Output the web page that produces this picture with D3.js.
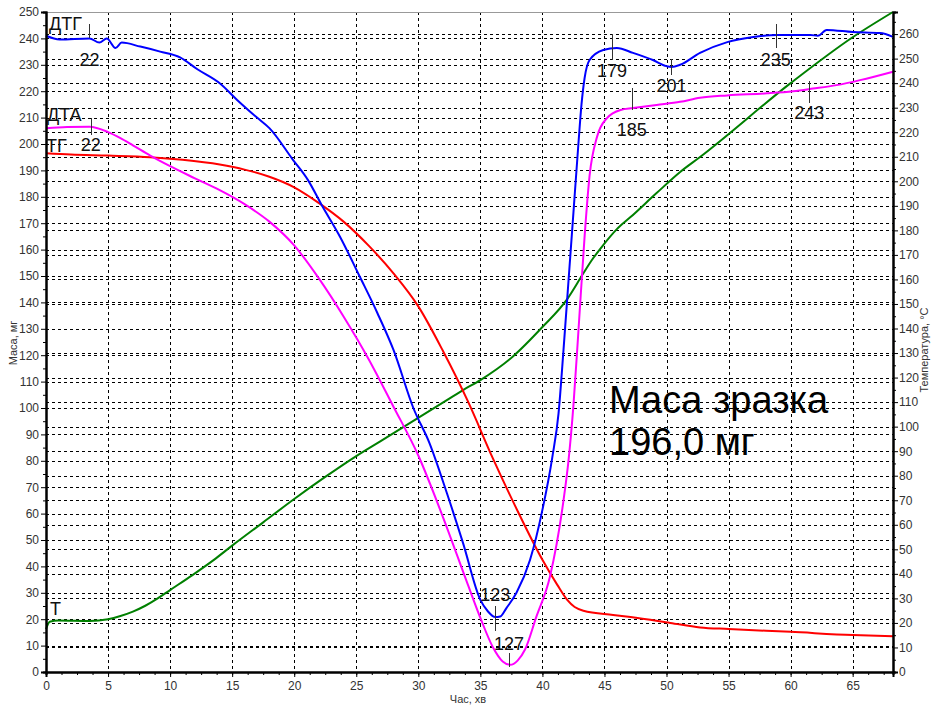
<!DOCTYPE html>
<html>
<head>
<meta charset="utf-8">
<script src="https://cdn.jsdelivr.net/npm/d3@7"></script>
<style>
  body { margin: 0; background: #fff; }
  svg { display: block; font-family: Arial, "Liberation Sans", sans-serif; }
</style>
</head>
<body>
<svg id="chart" width="931" height="708"></svg>
<script>
// час, хв ; маса, мг (ліва вісь)
const tg = [[0,196.5],[2,196],[5,195.6],[8.4,195],[11,194],[14,192.2],[16,190.3],[18,187.6],[20,183.6],[22,177.6],[24,170.5],[26,161.5],[28,151],[30,138.5],[32,121.5],[34,102.5],[36,81],[38,61],[40,42.5],[41.2,33],[42,27.3],[42.6,24.6],[43.3,23.2],[45.7,21.6],[47.1,20.8],[50.3,18.6],[52.7,16.9],[55,16.3],[60,15.2],[65,14],[68.25,13.5]];

const dtg = [[0,241],[1.1,239.6],[3.5,240],[4.3,238.4],[4.9,240],[5.6,236.4],[6.1,238.4],[7.6,236.9],[9.2,235],[10.8,232.8],[12.2,228.3],[14,223],[15.4,216.7],[17,210],[18,206],[19.9,194],[21.1,186.4],[22.2,177],[23.7,164.8],[25.3,149.6],[26.7,136],[28,122],[29.6,100],[30.9,86.7],[32.3,67.8],[33.6,48.9],[35,27.3],[35.6,23],[36.2,20.8],[36.6,21],[37.1,24.2],[37.9,29.9],[39,42.4],[40,61.4],[40.8,81.4],[41.3,98],[41.7,122],[42.1,148],[42.5,174],[42.9,200],[43.15,215],[43.4,225],[43.8,231.8],[44.9,235.6],[46,236.4],[47.3,234.5],[48.9,231.8],[50,229.5],[50.4,229.2],[51.1,230],[52.7,234.5],[54.9,238.6],[57,240.5],[58.9,241.3],[61.6,241.3],[62.2,241],[62.9,243.2],[65,242.4],[67.2,242],[68.25,240.6]];

const dta = [[0,206],[1.7,206.4],[3.5,206.5],[5,204.5],[6,202.2],[7,199.5],[8.4,195.6],[10,191.6],[12,187],[14,182.5],[16,177.2],[18,170.6],[20,161.6],[22,149],[24,134.5],[26,118.5],[28,100.5],[30,82],[32,58.5],[34,33],[35,20.5],[36,9.5],[36.8,4],[37.4,2.7],[38,4.3],[38.6,8.5],[39.5,20.8],[40.6,36],[41.7,65],[42.1,80],[42.5,101],[42.9,129],[43.4,165],[43.8,188],[44.4,202.7],[45.2,209.8],[46.3,212.9],[47.3,213.6],[49.2,214.8],[51.1,216],[52.7,217.5],[54.9,218.4],[58.1,219.2],[60.2,220],[61.8,221],[63.7,222.3],[65.6,224.2],[68.25,227.4]];

// температура, °C (права вісь)
const temp = [[0,17.5],[0.3,20.5],[1,21],[3.5,20.8],[5,21.5],[6,22.8],[7,24.6],[8,27],[9,30],[10,33.4],[11.8,39.5],[13.5,45.6],[15,51.5],[17.5,61],[20,70.5],[22.5,79.5],[25,88],[26.9,93.9],[32.3,110.8],[33.6,114.9],[35,119],[37.6,128.5],[40,140.6],[42,152],[43.3,162.5],[44,168],[44.9,174],[46,180.5],[47.1,185.4],[49.2,195.2],[51.1,203.8],[52.7,209.9],[60,240],[65,258.7],[68.25,269]];

const xTicks = d3.range(0, 66, 5);
const leftTicks = d3.range(0, 251, 10);
const rightTicks = d3.range(0, 261, 10);

const markers = [
    // [x, y1, y2, label, labelY]
    [3.5, 24, 38, "22", 66],
    [3.6, 118, 135, "22", 151],
    [36.2, 606, 631, "123", 601],
    [37.3, 653, 667, "127", 650],
    [45.6, 34, 60, "179", 77],
    [50.4, 59, 75, "201", 92],
    [58.8, 24, 48, "235", 66],
    [61.5, 81, 103, "243", 119],
    [47.2, 88, 110, "185", 136]
];

const curveNames = [["ДТГ", 49, 30], ["ДТА", 47, 121], ["ТГ", 46, 152], ["Т", 50, 615]];

const svg = d3.select("#chart");
const pLeft = 46, pRight = 893, pTop = 12, pBottom = 672;

const x = d3.scaleLinear().domain([0, 68.25]).range([pLeft, pRight]);
const yL = d3.scaleLinear().domain([0, 250]).range([pBottom, pTop]);
const yR = d3.scaleLinear().domain([0, 269]).range([pBottom, pTop]);

// grid
const grid = svg.append("g")
    .attr("stroke", "#000")
    .attr("stroke-width", 1)
    .attr("stroke-dasharray", "3,3")
    .attr("shape-rendering", "crispEdges");

grid.selectAll("line.v")
    .data(xTicks.filter(d => d > 0))
    .enter().append("line")
    .attr("x1", d => Math.round(x(d)) + 0.5)
    .attr("x2", d => Math.round(x(d)) + 0.5)
    .attr("y1", pTop)
    .attr("y2", pBottom);

grid.selectAll("line.hl")
    .data(leftTicks.filter(d => d > 0 && d < 250))
    .enter().append("line")
    .attr("x1", pLeft)
    .attr("x2", pRight)
    .attr("y1", d => Math.round(yL(d)) + 0.5)
    .attr("y2", d => Math.round(yL(d)) + 0.5);

grid.selectAll("line.hr")
    .data(rightTicks.filter(d => d > 0))
    .enter().append("line")
    .attr("x1", pLeft)
    .attr("x2", pRight)
    .attr("y1", d => Math.round(yR(d)) + 0.5)
    .attr("y2", d => Math.round(yR(d)) + 0.5);

// top border
svg.append("line")
    .attr("x1", pLeft).attr("x2", pRight)
    .attr("y1", pTop + 0.5).attr("y2", pTop + 0.5)
    .attr("stroke", "#999");

// curves
const line = (ys) => d3.line()
    .x(d => x(d[0]))
    .y(d => ys(d[1]))
    .curve(d3.curveMonotoneX);

const series = [
    [temp, yR, "#008000"],
    [tg, yL, "#ff0000"],
    [dta, yL, "#ff00ff"],
    [dtg, yL, "#0000ff"]
];

svg.append("g")
    .attr("fill", "none")
    .attr("stroke-width", 2)
    .selectAll("path")
    .data(series)
    .enter().append("path")
    .attr("stroke", d => d[2])
    .attr("d", d => line(d[1])(d[0]));

// axes
const axisFont = g => g.selectAll("text")
    .attr("font-size", 12)
    .attr("fill", "#333")
    .attr("font-family", "Arial, 'Liberation Sans', sans-serif");

svg.append("g")
    .attr("transform", `translate(0,${pBottom})`)
    .call(d3.axisBottom(x).tickValues(xTicks).tickSize(5).tickPadding(4).tickFormat(d3.format("d")))
    .call(axisFont);
svg.append("g")
    .attr("transform", `translate(0,${pBottom})`)
    .call(d3.axisBottom(x).tickValues(d3.range(0, 68.3, 1.25)).tickSize(3).tickFormat(""));

svg.append("g")
    .attr("transform", `translate(${pLeft},0)`)
    .call(d3.axisLeft(yL).tickValues(leftTicks).tickSize(5).tickPadding(2))
    .call(axisFont);
svg.append("g")
    .attr("transform", `translate(${pLeft},0)`)
    .call(d3.axisLeft(yL).tickValues(d3.range(5, 250, 10)).tickSize(3).tickFormat(""));

svg.append("g")
    .attr("transform", `translate(${pRight},0)`)
    .call(d3.axisRight(yR).tickValues(rightTicks).tickSize(5).tickPadding(1))
    .call(axisFont);
svg.append("g")
    .attr("transform", `translate(${pRight},0)`)
    .call(d3.axisRight(yR).tickValues(d3.range(5, 269, 10)).tickSize(3).tickFormat(""));

svg.selectAll(".domain").attr("stroke", "#000").attr("stroke-width", 2);
svg.selectAll(".tick line").attr("stroke", "#000");

// axis titles
svg.append("text")
    .attr("transform", "translate(17,343) rotate(-90)")
    .attr("text-anchor", "middle")
    .attr("font-size", 11)
    .attr("fill", "#333")
    .text("Маса, мг");

svg.append("text")
    .attr("transform", "translate(928,350) rotate(-90)")
    .attr("text-anchor", "middle")
    .attr("font-size", 11)
    .attr("fill", "#333")
    .text("Температура, °C");

svg.append("text")
    .attr("x", 468)
    .attr("y", 703)
    .attr("text-anchor", "middle")
    .attr("font-size", 11)
    .attr("fill", "#333")
    .text("Час, хв");

// curve names
svg.append("g")
    .selectAll("text")
    .data(curveNames)
    .enter().append("text")
    .attr("x", d => d[1])
    .attr("y", d => d[2])
    .attr("font-size", 18)
    .attr("fill", "#111")
    .text(d => d[0]);

// temperature markers
const mk = svg.append("g");
mk.selectAll("line")
    .data(markers)
    .enter().append("line")
    .attr("x1", d => Math.round(x(d[0])) + 0.5)
    .attr("x2", d => Math.round(x(d[0])) + 0.5)
    .attr("y1", d => d[1])
    .attr("y2", d => d[2])
    .attr("stroke", "#333");
mk.selectAll("text")
    .data(markers)
    .enter().append("text")
    .attr("x", d => x(d[0]))
    .attr("y", d => d[4])
    .attr("text-anchor", "middle")
    .attr("font-size", 18)
    .attr("fill", "#111")
    .text(d => d[3]);

// sample mass
svg.append("text")
    .attr("x", 609)
    .attr("y", 413)
    .attr("font-size", 38)
    .attr("fill", "#000")
    .text("Маса зразка");
svg.append("text")
    .attr("x", 609)
    .attr("y", 455)
    .attr("font-size", 38)
    .attr("fill", "#000")
    .text("196,0 мг");
</script>
</body>
</html>
